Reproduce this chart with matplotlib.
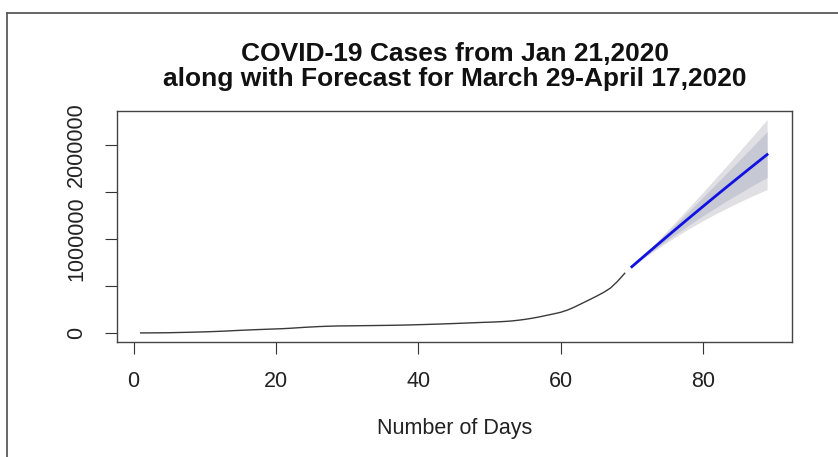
import matplotlib
matplotlib.use("Agg")
import matplotlib.pyplot as plt
from matplotlib.lines import Line2D

plt.rcParams['font.family'] = ['Liberation Sans', 'DejaVu Sans']

# Observed cumulative cases, days 1..69
obs_days = list(range(1, 70))
obs_cases = [580, 845, 1320, 2010, 2800, 4600, 6060, 7820, 9830, 11950,
             14550, 17390, 20630, 24550, 28280, 31490, 34890, 37570, 40550, 43100,
             46000, 50000, 55000, 60000, 64000, 68000, 71000, 73300, 75100, 75700,
             76500, 77600, 78500, 79400, 80400, 81400, 82700, 84100, 86000, 88300,
             90300, 92800, 95100, 97900, 100500, 103500, 106500, 109500, 112500, 115000,
             118000, 122000, 127000, 135000, 145000, 157000, 171000, 187000, 203000, 220000,
             245000, 278000, 315000, 352000, 390000, 430000, 478000, 550000, 635000]

# Forecast, days 70..89
fc_days = list(range(70, 90))
fc_mean = [705000, 770500, 835700, 900600, 965200, 1029500, 1093500, 1157200, 1220600, 1283700,
           1346500, 1409000, 1471200, 1533100, 1594700, 1656000, 1717000, 1777700, 1838100, 1898200]
fc_lo95 = [700800, 758700, 814100, 867300, 918700, 968400, 1016500, 1063100, 1108300, 1152200,
           1194800, 1236100, 1276300, 1315200, 1353100, 1389800, 1425500, 1460100, 1493600, 1526200]
fc_hi95 = [709200, 782300, 857300, 933900, 1011700, 1090600, 1170500, 1251300, 1332900, 1415200,
           1498200, 1581900, 1666100, 1751000, 1836300, 1922200, 2008500, 2095300, 2182600, 2270200]
fc_lo80 = [702300, 762800, 821600, 878800, 934800, 989500, 1043100, 1095700, 1147200, 1197700,
           1247300, 1295900, 1343700, 1390600, 1436700, 1481900, 1526400, 1570000, 1612800, 1654900]
fc_hi80 = [707700, 778200, 849800, 922400, 995600, 1069500, 1143900, 1218700, 1294000, 1369700,
           1445700, 1522100, 1598700, 1675600, 1752700, 1830100, 1907600, 1985400, 2063400, 2141500]

x_ticks = [0, 20, 40, 60, 80]
y_ticks = [0, 500000, 1000000, 1500000, 2000000]
y_tick_labels = ["0", "", "1000000", "", "2000000"]

title_text = "COVID-19 Cases from Jan 21,2020\nalong with Forecast for March 29-April 17,2020"
x_label = "Number of Days"

W, H = 838, 457
fig = plt.figure(figsize=(W / 100, H / 100), dpi=100)
fig.patch.set_facecolor('white')

# window frame lines
fig.add_artist(Line2D([7 / W, 1.0], [1 - 13 / H, 1 - 13 / H], transform=fig.transFigure,
                      color='#5a5a5a', lw=1.3))
fig.add_artist(Line2D([7 / W, 7 / W], [0, 1 - 13 / H], transform=fig.transFigure,
                      color='#5a5a5a', lw=1.3))

ax = fig.add_axes([117 / W, 1 - 342 / H, (792 - 117) / W, (342 - 111) / H])

ax.fill_between(fc_days, fc_lo95, fc_hi95, color='#dfdfe4', lw=0)
ax.fill_between(fc_days, fc_lo80, fc_hi80, color='#c6c8d4', lw=0)
ax.plot(obs_days, obs_cases, color='#3a3a3a', lw=1.0)
ax.plot(fc_days, fc_mean, color='#1212e0', lw=2.0)

ax.set_xlim(-2.32, 92.5)
ax.set_ylim(-96000, 2362000)
ax.set_xticks(x_ticks)
ax.set_xticklabels([str(v) for v in x_ticks])
ax.set_yticks(y_ticks)
ax.set_yticklabels(y_tick_labels, rotation=90, va='center')

for sp in ax.spines.values():
    sp.set_color('#444444')
    sp.set_linewidth(1.0)
ax.tick_params(axis='both', direction='out', length=8.6, width=0.8, color='#333333',
               labelsize=15.5, labelcolor='#222222')
ax.tick_params(axis='x', pad=12)
ax.tick_params(axis='y', pad=13)

ax.set_xlabel(x_label, fontsize=15.5, color='#222222', labelpad=19)
fig.text(0.5 * (117 + 792) / W, 1 - 66.5 / H, title_text, ha='center', va='center',
         fontsize=19, fontweight='bold', color='#111111', linespacing=1.1)

fig.savefig('out.png', dpi=100)
